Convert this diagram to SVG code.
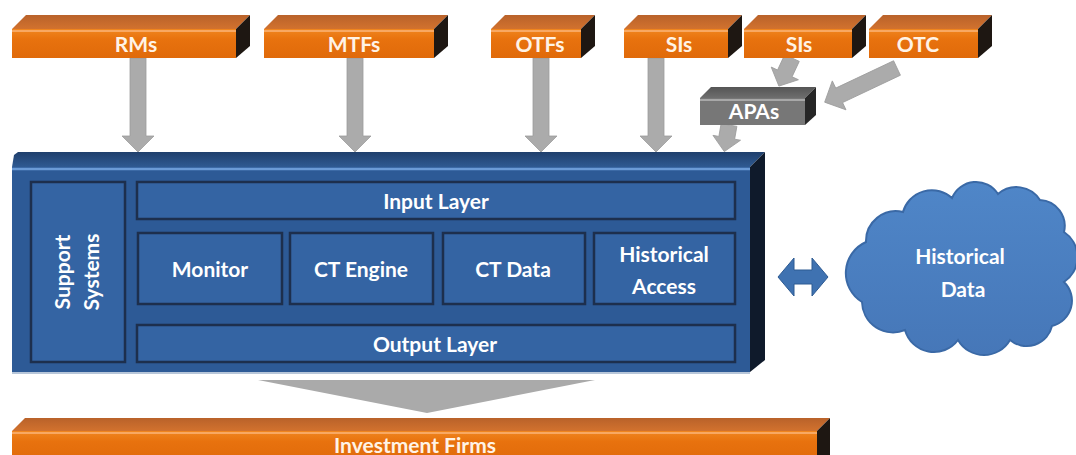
<svg xmlns="http://www.w3.org/2000/svg" width="1076" height="455" viewBox="0 0 1076 455">
<defs>
<linearGradient id="gOTop" x1="0" y1="0" x2="0" y2="1"><stop offset="0" stop-color="#b9622a"/><stop offset="1" stop-color="#d2722e"/></linearGradient>
<linearGradient id="gOFront" x1="0" y1="0" x2="0" y2="1"><stop offset="0" stop-color="#f0861f"/><stop offset="0.35" stop-color="#e8720e"/><stop offset="1" stop-color="#e06a0a"/></linearGradient>
<linearGradient id="gBTop" x1="0" y1="0" x2="0" y2="1"><stop offset="0" stop-color="#1f3f6c"/><stop offset="1" stop-color="#2f5a92"/></linearGradient>
<linearGradient id="gGTop" x1="0" y1="0" x2="0" y2="1"><stop offset="0" stop-color="#555"/><stop offset="1" stop-color="#6e6e6e"/></linearGradient>
<linearGradient id="gCloud" x1="0" y1="0" x2="0" y2="1"><stop offset="0" stop-color="#4f86c8"/><stop offset="1" stop-color="#4677b8"/></linearGradient>
</defs>
<style>
.lbl{font-family:Lato,"Open Sans","Liberation Sans",sans-serif;fill:#ffffff;font-size:21px;font-weight:bold;text-anchor:middle}
.olbl{fill:#fff3e6}
.ot{fill:url(#gOTop)}
.of{fill:url(#gOFront)}
.os{fill:#1e1712}
.oh{stroke:#f8a862;stroke-width:2}
.bi{fill:#3464a3;stroke:#1d2f4d;stroke-width:2.5}
.ga{fill:#ababab;stroke:#9c9c9c;stroke-width:0.8}
</style>
<rect width="1076" height="455" fill="#ffffff"/>

<g id="connectors">
<path class="ga" d="M130 58H146V136H154L138 152L122 136H130Z"/>
<path class="ga" d="M347 58H363V136H371L355 152L339 136H347Z"/>
<path class="ga" d="M533 58H549V136H557L541 152L525 136H533Z"/>
<path class="ga" d="M648 58H664V136H672L656 152L640 136H648Z"/>
<g transform="translate(792,58) rotate(25)"><path class="ga" d="M-8 0H8V17H15L0 31L-15 17H-8Z"/></g>
<g transform="translate(897,68) rotate(64.7)"><path class="ga" d="M-8 0H8V64H16L0 80L-16 64H-8Z"/></g>
<g transform="translate(729,125) rotate(10)"><path class="ga" d="M-8 0H8V13H14L0 27L-14 13H-8Z"/></g>
<path fill="#aaaaaa" d="M258 380H595L427 413Z"/>
<path fill="#3f72b1" stroke="#2d5a92" stroke-width="1" d="M778 277L794 258V270H812V258L828 277L812 296V284H794V296Z"/>
</g>

<g id="node-rms">
<polygon class="ot" points="12,29 26,15 250,15 236,29"/>
<rect class="of" x="12" y="29" width="224" height="29"/>
<line class="oh" x1="12" y1="31" x2="236" y2="31"/>
<polygon class="os" points="236,29 250,15 250,46 236,58"/>
<text class="lbl olbl" x="136" y="52">RMs</text>
</g>
<g id="node-mtfs">
<polygon class="ot" points="264,29 278,15 448,15 434,29"/>
<rect class="of" x="264" y="29" width="170" height="29"/>
<line class="oh" x1="264" y1="31" x2="434" y2="31"/>
<polygon class="os" points="434,29 448,15 448,46 434,58"/>
<text class="lbl olbl" x="354" y="52">MTFs</text>
</g>
<g id="node-otfs">
<polygon class="ot" points="491,29 505,15 595,15 581,29"/>
<rect class="of" x="491" y="29" width="90" height="29"/>
<line class="oh" x1="491" y1="31" x2="581" y2="31"/>
<polygon class="os" points="581,29 595,15 595,46 581,58"/>
<text class="lbl olbl" x="540" y="52">OTFs</text>
</g>
<g id="node-sis1">
<polygon class="ot" points="624,29 638,15 742,15 728,29"/>
<rect class="of" x="624" y="29" width="104" height="29"/>
<line class="oh" x1="624" y1="31" x2="728" y2="31"/>
<polygon class="os" points="728,29 742,15 742,46 728,58"/>
<text class="lbl olbl" x="679" y="52">SIs</text>
</g>
<g id="node-sis2">
<polygon class="ot" points="744,29 758,15 866,15 852,29"/>
<rect class="of" x="744" y="29" width="108" height="29"/>
<line class="oh" x1="744" y1="31" x2="852" y2="31"/>
<polygon class="os" points="852,29 866,15 866,46 852,58"/>
<text class="lbl olbl" x="799" y="52">SIs</text>
</g>
<g id="node-otc">
<polygon class="ot" points="869,29 883,15 992,15 978,29"/>
<rect class="of" x="869" y="29" width="109" height="29"/>
<line class="oh" x1="869" y1="31" x2="978" y2="31"/>
<polygon class="os" points="978,29 992,15 992,46 978,58"/>
<text class="lbl olbl" x="918" y="52">OTC</text>
</g>

<g id="node-apas">
<polygon fill="url(#gGTop)" points="700,98 711,87 816,87 805,98"/>
<rect x="700" y="98" width="105" height="27" fill="#777777"/>
<line x1="700" y1="100" x2="805" y2="100" stroke="#a8a8a8" stroke-width="2"/>
<polygon fill="#262626" points="805,98 816,87 816,115 805,125"/>
<text class="lbl" x="754" y="119" font-size="20" fill="#f2f2f2">APAs</text>
</g>

<g id="node-system">
<polygon fill="url(#gBTop)" points="12,167 14,155 18,152 765,152 750,167"/>
<rect x="12" y="167" width="738" height="205" fill="#2d5a96"/>
<line x1="12" y1="169" x2="750" y2="169" stroke="#6b9bd6" stroke-width="2.5"/>
<polygon fill="#0f1a2b" points="750,167 765,152 765,360 750,372"/>
<line x1="12" y1="373" x2="750" y2="373" stroke="#9fb3cc" stroke-width="1.5"/>
</g>
<g id="node-support">
<rect class="bi" x="31" y="182" width="94" height="180"/>
<text class="lbl" transform="translate(70,272) rotate(-90)">Support</text>
<text class="lbl" transform="translate(99,272) rotate(-90)">Systems</text>
</g>
<g id="node-input">
<rect class="bi" x="137" y="182" width="598" height="37"/>
<text class="lbl" x="436" y="209">Input Layer</text>
</g>
<g id="node-monitor">
<rect class="bi" x="138" y="233" width="144" height="71"/>
<text class="lbl" x="210" y="277">Monitor</text>
</g>
<g id="node-ctengine">
<rect class="bi" x="290" y="233" width="143" height="71"/>
<text class="lbl" x="361" y="277">CT Engine</text>
</g>
<g id="node-ctdata">
<rect class="bi" x="443" y="233" width="142" height="71"/>
<text class="lbl" x="513" y="277">CT Data</text>
</g>
<g id="node-histaccess">
<rect class="bi" x="594" y="233" width="141" height="71"/>
<text class="lbl" x="664" y="262">Historical</text>
<text class="lbl" x="664" y="294">Access</text>
</g>
<g id="node-output">
<rect class="bi" x="137" y="325" width="598" height="37"/>
<text class="lbl" x="435" y="352">Output Layer</text>
</g>

<g id="node-histdata">
<path fill="url(#gCloud)" stroke="#3a69a6" stroke-width="2" d="M862 302 A34 34 0 0 1 866 242 A30 30 0 0 1 903 212 A30 30 0 0 1 952 198 A26 26 0 0 1 998 194 A28 28 0 0 1 1040 200 A26 26 0 0 1 1064 232 A30 30 0 0 1 1064 282 A26 26 0 0 1 1052 326 A26 26 0 0 1 1010 340 A30 30 0 0 1 958 340 A30 30 0 0 1 905 330 A31 31 0 0 1 862 302 Z"/>
<text class="lbl" x="960" y="264" fill="#eef4ff">Historical</text>
<text class="lbl" x="963" y="297" fill="#eef4ff">Data</text>
</g>

<g id="node-firms">
<polygon class="ot" points="12,431 25,418 830,418 817,431"/>
<rect class="of" x="12" y="431" width="805" height="30"/>
<line class="oh" x1="12" y1="433" x2="817" y2="433"/>
<polygon class="os" points="817,431 830,418 830,455 817,455"/>
<text class="lbl olbl" x="415" y="453">Investment Firms</text>
</g>
</svg>
